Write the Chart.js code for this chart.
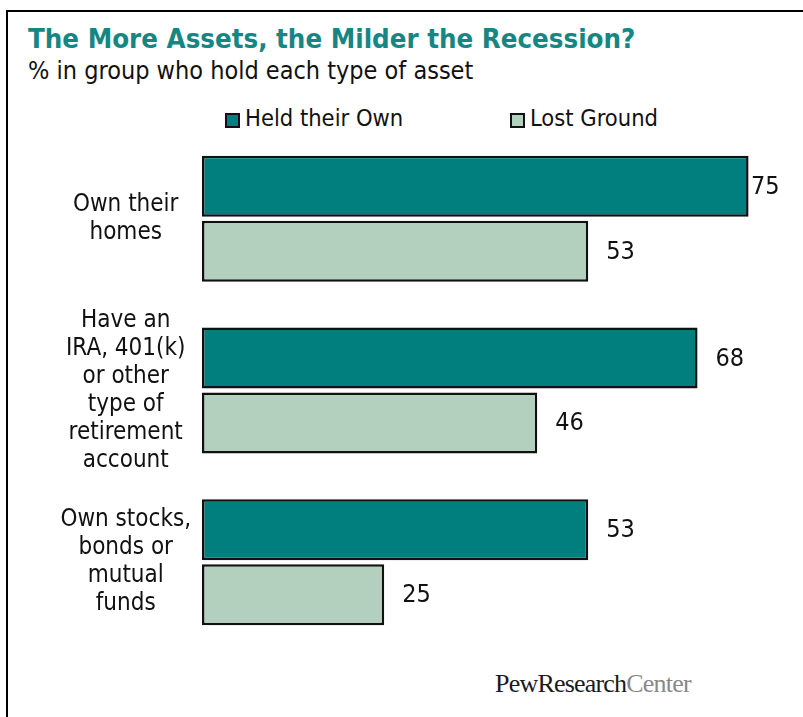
<!DOCTYPE html>
<html>
<head>
<meta charset="utf-8">
<title>The More Assets, the Milder the Recession?</title>
<script src="https://cdn.jsdelivr.net/npm/chart.js@4.4.1/dist/chart.umd.min.js"></script>
<style>
  html, body { margin: 0; padding: 0; background: #fff; }
  #wrap { position: relative; width: 803px; height: 717px; overflow: hidden; font-family: "DejaVu Sans Condensed", "DejaVu Sans", sans-serif; }
  #frame { position: absolute; left: 6px; top: 10px; width: 900px; height: 800px; border-top: 2px solid #000; border-left: 2px solid #000; }
  #title { position: absolute; left: 28px; top: 25px; font-size: 27.4px; line-height: 27px; font-weight: bold; color: #168683; white-space: nowrap; }
  #subtitle { position: absolute; left: 28px; top: 58px; font-size: 25px; line-height: 25px; color: #111; white-space: nowrap; }
  .legend-item { position: absolute; top: 107px; font-size: 23.5px; line-height: 23px; color: #111; white-space: nowrap; }
  .legend-box { position: absolute; left: 0; top: 6px; width: 11px; height: 11px; border: 2px solid #111; }
  .legend-item span.txt { padding-left: 20px; }
  #chartBox { position: absolute; left: 0; top: 133px; width: 803px; height: 515px; }
  #footer { position: absolute; left: 495px; top: 671px; font-family: "Liberation Serif", "DejaVu Serif", serif; font-size: 26px; line-height: 26px; letter-spacing: -0.8px; color: #1a1a1a; white-space: nowrap; }
  #footer .light { color: #888; }
</style>
</head>
<body>
<div id="wrap">
  <div id="frame"></div>
  <div id="title">The More Assets, the Milder the Recession?</div>
  <div id="subtitle">% in group who hold each type of asset</div>
  <div id="legend"></div>
  <div id="chartBox"><canvas id="chart"></canvas></div>
  <div id="footer">PewResearch<span class="light">Center</span></div>
</div>
<script>
// categories (one array per wrapped label)
const assetTypes = [
  ['Own their', 'homes'],
  ['Have an', 'IRA, 401(k)', 'or other', 'type of', 'retirement', 'account'],
  ['Own stocks,', 'bonds or', 'mutual', 'funds']
];
const seriesNames = ['Held their Own', 'Lost Ground'];
const heldTheirOwn = [75, 68, 53];
const lostGround = [53, 46, 25];
const seriesColors = ['#007f7f', '#b2d0bd'];
const legendLeft = [225, 510];

// legend drawn as html next to the chart
const legendEl = document.getElementById('legend');
seriesNames.forEach((name, i) => {
  const item = document.createElement('div');
  item.className = 'legend-item';
  item.style.left = legendLeft[i] + 'px';
  item.innerHTML = '<div class="legend-box" style="background:' + seriesColors[i] + '"></div><span class="txt"></span>';
  item.querySelector('.txt').textContent = name;
  legendEl.appendChild(item);
});

// numbers to the right of each bar
const valueLabels = {
  id: 'valueLabels',
  afterDatasetsDraw(chart) {
    const ctx = chart.ctx;
    const area = chart.chartArea;
    ctx.save();
    ctx.font = '25px "Liberation Sans Narrow", "DejaVu Sans Condensed", sans-serif';
    ctx.fillStyle = '#111';
    ctx.textAlign = 'left';
    ctx.textBaseline = 'middle';
    chart.data.datasets.forEach((ds, di) => {
      chart.getDatasetMeta(di).data.forEach((bar, i) => {
        const x = Math.min(bar.x + 18, area.right - 34);
        ctx.fillText(String(ds.data[i]), x, bar.y + 1);
      });
    });
    ctx.restore();
  }
};

new Chart(document.getElementById('chart'), {
  type: 'bar',
  data: {
    labels: assetTypes,
    datasets: [
      {
        label: seriesNames[0],
        data: heldTheirOwn,
        backgroundColor: seriesColors[0],
        borderColor: '#111',
        borderWidth: 2.5,
        borderSkipped: false,
        categoryPercentage: 0.757,
        barPercentage: 0.938
      },
      {
        label: seriesNames[1],
        data: lostGround,
        backgroundColor: seriesColors[1],
        borderColor: '#111',
        borderWidth: 2.5,
        borderSkipped: false,
        categoryPercentage: 0.757,
        barPercentage: 0.938
      }
    ]
  },
  options: {
    indexAxis: 'y',
    responsive: true,
    maintainAspectRatio: false,
    animation: false,
    layout: { padding: { left: 0, right: 18, top: 0, bottom: 0 } },
    plugins: {
      legend: { display: false },
      tooltip: { enabled: false }
    },
    scales: {
      x: {
        display: false,
        min: 0,
        max: 80
      },
      y: {
        // fixed axis width; the multi-line labels sit inside the bands
        afterFit(scale) {
          scale.width = 202;
          scale.paddingTop = 0;
          scale.paddingBottom = 0;
        },
        border: { display: false },
        grid: { display: false, drawTicks: false },
        ticks: {
          crossAlign: 'center',
          padding: 11,
          color: '#111',
          font: { family: '"DejaVu Sans Condensed", "DejaVu Sans", sans-serif', size: 24, lineHeight: 1.1667 }
        }
      }
    }
  },
  plugins: [valueLabels]
});
</script>
</body>
</html>
